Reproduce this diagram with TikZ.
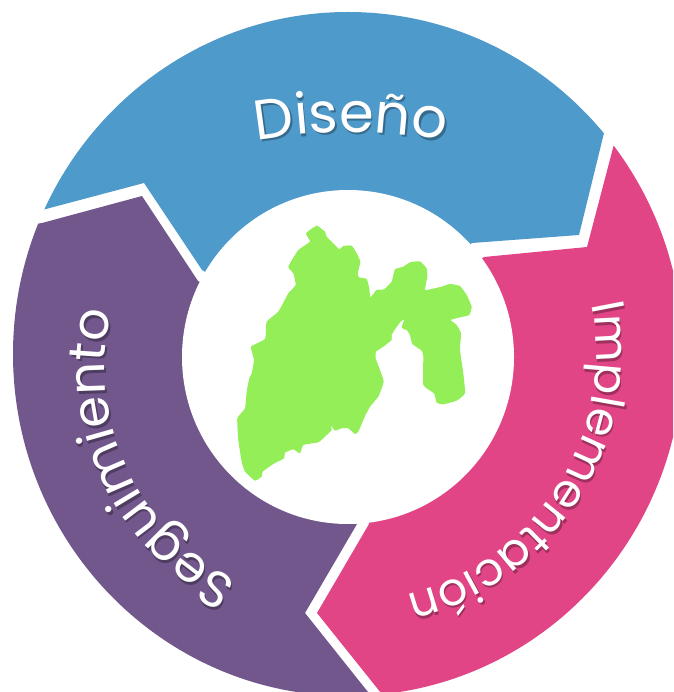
\documentclass[tikz,border=0pt]{standalone}
\usepackage{fontspec}
\setmainfont{Poppins}
\usetikzlibrary{decorations.text}
\definecolor{cblue}{HTML}{4E9ACB}
\definecolor{cpink}{HTML}{E24586}
\definecolor{cpurple}{HTML}{72578C}
\definecolor{cgreen}{HTML}{94EE58}
\newcommand{\ringlabels}[1]{%
\path[decorate,decoration={text along path,text align=center,text={|\fontsize{56}{56}\selectfont\color{#1}|Diseño}}]
  plot[domain=245:295,samples=40] ({351+520*cos(\x)},{652+520*sin(\x)});
\path[decorate,decoration={text along path,text align=center,text={|\fontsize{46}{46}\selectfont\color{#1}|Implementación}}]
  plot[domain=-15:80,samples=60] ({348+248*cos(\x)},{354+248*sin(\x)});
\path[decorate,decoration={text along path,text align=center,text={|\fontsize{51}{51}\selectfont\color{#1}|Seguimiento}}]
  plot[domain=110:200,samples=60] ({343+238*cos(\x)},{368+238*sin(\x)});
}
\begin{document}
\begin{tikzpicture}[x=1pt,y=-1pt]
\useasboundingbox (0,0) rectangle (673,692);
\clip (0,0) rectangle (673,692);
\begin{scope}
  \clip (348,354) ellipse [x radius=335,y radius=342];
  \fill[cblue] (144,183) -- (46,209) -- (-60,237) -- (-60,-60) -- (640,-60) -- (604,133) -- (579,235) -- (472,243) -- (348,357) -- (202,270) -- cycle;
  \fill[cpink] (613,148) -- (587,247) -- (484,257) -- (348,357) -- (369,524) -- (317,613) -- (385,698) -- (420,760) -- (760,760) -- (760,-20) -- (640,45) -- cycle;
  \fill[cpurple] (42,223) -- (142,196) -- (198,281) -- (348,357) -- (357,524) -- (305,613) -- (368,692) -- (400,760) -- (-60,760) -- (-60,240) -- cycle;
\end{scope}
\fill[white] (348,357) ellipse [x radius=166,y radius=167];
\begin{scope}[shift={(210,210)},x=0.3333pt,y=-0.3333pt]
\fill[cgreen] plot[smooth cycle,tension=.25] coordinates {(320,47)(345,65)(350,80)(375,105)(388,118)(400,108)(425,107)(440,130)(451,155)(443,190)(447,202)(470,207)(478,235)(481,262)(500,240)(522,238)(545,215)(555,178)(580,170)(600,157)(630,154)(650,175)(652,200)(645,240)(660,238)(695,230)(720,222)(750,228)(770,255)(785,290)(778,315)(750,322)(722,330)(740,345)(753,370)(750,420)(760,490)(765,550)(740,572)(700,583)(680,578)(672,550)(640,525)(640,440)(635,422)(607,402)(600,375)(590,360)(580,357)(575,350)(583,328)(572,335)(555,358)(545,375)(545,390)(520,410)(498,425)(497,445)(510,480)(521,515)(505,560)(480,590)(462,625)(445,665)(435,672)(415,655)(395,655)(375,662)(362,645)(365,660)(345,680)(325,697)(280,705)(270,730)(250,718)(225,728)(222,745)(190,762)(158,785)(155,800)(135,812)(105,785)(95,755)(85,690)(82,625)(105,595)(110,545)(118,505)(125,490)(132,450)(123,410)(165,387)(170,335)(205,305)(235,250)(257,225)(250,190)(235,170)(265,120)(300,95)(288,70)};
\end{scope}
\begin{scope}[shift={(1.5,2.5)},opacity=.3]
\ringlabels{black}
\end{scope}
\ringlabels{white}
\end{tikzpicture}
\end{document}
